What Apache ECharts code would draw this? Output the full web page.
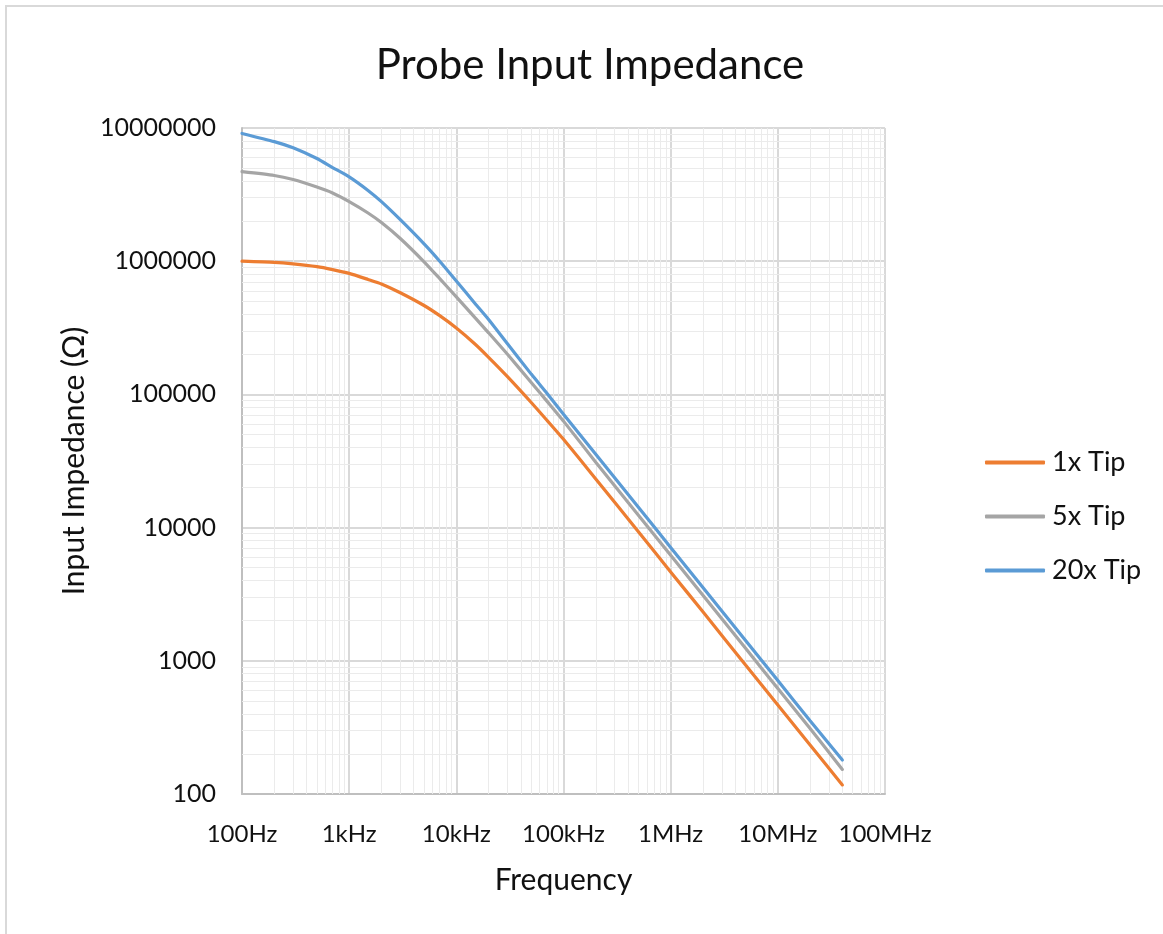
<!DOCTYPE html>
<html>
<head>
<meta charset="utf-8">
<script src="https://cdn.jsdelivr.net/npm/echarts@6/dist/echarts.min.js"></script>
<style>
html,body{margin:0;padding:0;background:#fff;}
#chart{width:1163px;height:934px;}
</style>
</head>
<body>
<div id="chart"></div>
<script>
// ---- data ----
const freq = [100, 200, 300, 500, 700, 1000, 1500, 2000, 3000, 5000, 7000, 10000, 15000, 20000, 30000, 50000, 70000, 1e5, 2e5, 5e5, 1e6, 2e6, 5e6, 1e7, 2e7, 4e7];
const z1x  = [1.0e6, 9.8e5, 9.55e5, 9.1e5, 8.65e5, 8.1e5, 7.3e5, 6.75e5, 5.8e5, 4.65e5, 3.9e5, 3.15e5, 2.38e5, 1.9e5, 1.36e5, 8.7e4, 6.4e4, 4.6e4, 2.32e4, 9.3e3, 4.65e3, 2.33e3, 930, 465, 233, 117];
const z5x  = [4.7e6, 4.4e6, 4.1e6, 3.6e6, 3.25e6, 2.8e6, 2.3e6, 1.95e6, 1.48e6, 9.9e5, 7.4e5, 5.4e5, 3.75e5, 2.9e5, 2.0e5, 1.23e5, 8.9e4, 6.3e4, 3.1e4, 1.24e4, 6.2e3, 3.1e3, 1.24e3, 620, 310, 153];
const z20x = [9.1e6, 7.9e6, 7.1e6, 5.9e6, 5.05e6, 4.3e6, 3.4e6, 2.8e6, 2.05e6, 1.35e6, 1.0e6, 7.1e5, 4.8e5, 3.65e5, 2.4e5, 1.42e5, 1.02e5, 7.1e4, 3.55e4, 1.42e4, 7.1e3, 3.55e3, 1.42e3, 710, 355, 180];
const seriesNames = ["1x Tip", "5x Tip", "20x Tip"];
const xTickLabels = ["100Hz", "1kHz", "10kHz", "100kHz", "1MHz", "10MHz", "100MHz"];
const yTickLabels = ["100", "1000", "10000", "100000", "1000000", "10000000"];

// ---- minor grid positions (2..9 within each decade) ----
function minorLines(lo, hi) {
  const out = [];
  for (let d = lo; d < hi; d *= 10) {
    for (let k = 2; k <= 9; k++) out.push(d * k);
  }
  return out;
}
const xMinor = minorLines(100, 1e8);
const yMinor = minorLines(100, 1e7);

const FONT = 'Lato';
const chart = echarts.init(document.getElementById('chart'), null, {renderer: 'canvas'});
const colors = ['#ED7D31', '#A5A5A5', '#5B9BD5'];
const values = [z1x, z5x, z20x];

const series = values.map((arr, i) => ({
  name: seriesNames[i],
  type: 'line',
  data: freq.map((f, j) => [f, arr[j]]),
  showSymbol: false,
  symbol: 'none',
  smooth: 0.2,
  z: 5,
  lineStyle: {color: colors[i], width: 3.2, cap: 'round'},
  itemStyle: {color: colors[i]}
}));

series[0].markLine = {
  silent: true,
  symbol: 'none',
  z: 1,
  animation: false,
  label: {show: false},
  lineStyle: {color: '#ebebeb', type: 'solid', width: 1},
  emphasis: {disabled: true},
  data: xMinor.map(v => ({xAxis: v})).concat(yMinor.map(v => ({yAxis: v})))
};

chart.setOption({
  animation: false,
  backgroundColor: '#ffffff',
  textStyle: {fontFamily: FONT},
  title: {
    text: 'Probe Input Impedance',
    left: 585,
    textAlign: 'center',
    top: 39,
    textStyle: {fontFamily: FONT, fontSize: 42, fontWeight: 'normal', color: '#111111'}
  },
  legend: {
    orient: 'vertical',
    left: 980,
    top: 444,
    itemWidth: 60,
    itemHeight: 4,
    itemGap: 27,
    icon: 'roundRect',
    data: seriesNames,
    textStyle: {fontFamily: FONT, fontSize: 27, color: '#111111', padding: [0, 0, 0, 2]}
  },
  grid: {left: 242, top: 128, width: 643, height: 666, containLabel: false, outerBoundsMode: 'none'},
  xAxis: {
    type: 'log',
    logBase: 10,
    min: 100,
    max: 1e8,
    name: 'Frequency',
    nameLocation: 'middle',
    nameGap: 71,
    nameTextStyle: {fontFamily: FONT, fontSize: 30, color: '#111111'},
    axisLine: {show: true, lineStyle: {color: '#bfbfbf', width: 2}},
    axisTick: {show: false},
    axisLabel: {
      fontFamily: FONT, fontSize: 24, color: '#111111', margin: 28,
      formatter: v => xTickLabels[Math.round(Math.log10(v)) - 2]
    },
    splitLine: {show: true, lineStyle: {color: '#d9d9d9', width: 2}}
  },
  yAxis: {
    type: 'log',
    logBase: 10,
    min: 100,
    max: 1e7,
    name: 'Input Impedance (Ω)',
    nameLocation: 'middle',
    nameGap: 152,
    nameRotate: 90,
    nameTextStyle: {fontFamily: FONT, fontSize: 30, color: '#111111'},
    axisLine: {show: true, lineStyle: {color: '#bfbfbf', width: 2}},
    axisTick: {show: false},
    axisLabel: {
      fontFamily: FONT, fontSize: 25, color: '#111111', margin: 26,
      formatter: v => yTickLabels[Math.round(Math.log10(v)) - 2]
    },
    splitLine: {show: true, lineStyle: {color: '#d9d9d9', width: 2}}
  },
  graphic: [{
    type: 'rect',
    silent: true,
    shape: {x: 6, y: 6, width: 1170, height: 940},
    style: {fill: null, stroke: '#d9d9d9', lineWidth: 2}
  }],
  series: series
});
</script>
</body>
</html>
